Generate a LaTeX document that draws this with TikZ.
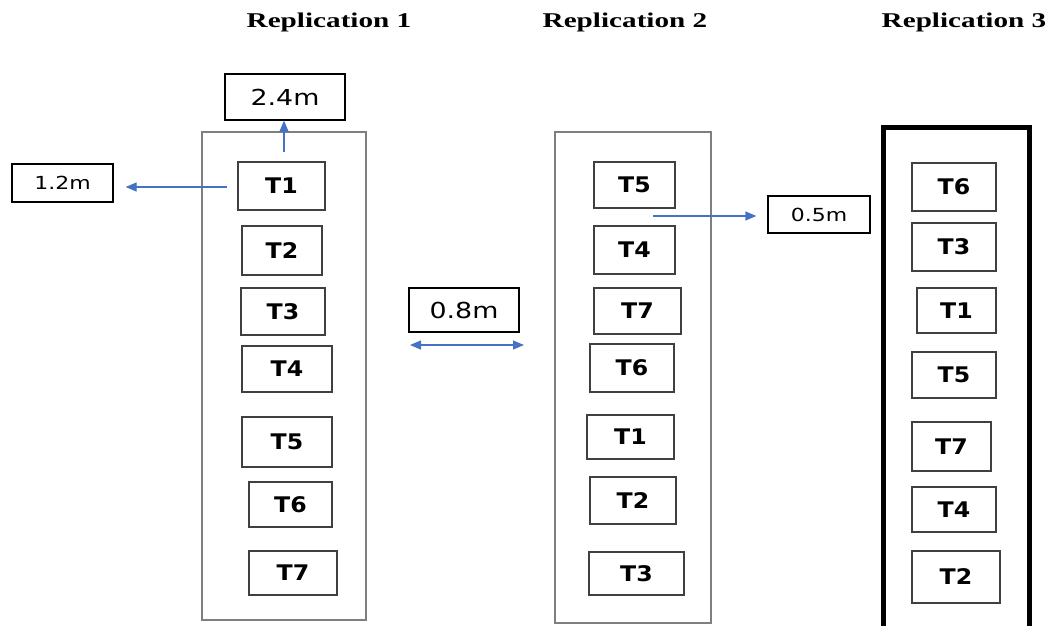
\documentclass[tikz,border=0pt]{standalone}
\usepackage{fontspec}
\setmainfont{DejaVu Sans}
\newfontfamily\titlefont{Liberation Serif}
\usetikzlibrary{arrows.meta}
\definecolor{arrblue}{HTML}{4472C4}
\definecolor{boxgray}{HTML}{7F7F7F}
\definecolor{tgray}{HTML}{404040}
\newcommand\boxat[7][]{\node[#1, minimum width={(#5-#3)*1pt}, minimum height={(#6-#4)*1pt}] (#2) at ({(#3+#5)/2},{(#4+#6)/2}) {#7};}
\newcommand\tlab[1]{\scalebox{1.1}[1]{#1}}
\newcommand\mlab[1]{\scalebox{1.22}[1]{#1}}
\begin{document}
\begin{tikzpicture}[x=1pt,y=-1pt,
  tbox/.style={draw=tgray, line width=1.4pt, inner sep=0pt, font=\bfseries\fontsize{21.5}{24}\selectfont},
  repbox/.style={draw=boxgray, line width=2.4pt, inner sep=0pt},
  repbold/.style={draw=black, line width=4.5pt, inner sep=0pt},
  mbox/.style={draw=black, line width=1.3pt, inner sep=0pt},
  mbig/.style={mbox, font=\fontsize{22}{26}\selectfont},
  msmall/.style={mbox, font=\fontsize{18}{22}\selectfont},
  title/.style={anchor=base, inner sep=0pt, font=\titlefont\bfseries\fontsize{21}{24}\selectfont},
  arr/.style={draw=arrblue, line width=1.3pt, -{Triangle[length=11pt,width=9pt]}},
  darr/.style={draw=arrblue, line width=1.3pt, {Triangle[length=11pt,width=9pt]}-{Triangle[length=11pt,width=9pt]}}
]
\path[use as bounding box, clip] (0,0) rectangle (1049,625);
\fill[white] (0,0) rectangle (1049,625);

% titles
\node[title] (title1) at (329,27) {\scalebox{1.39}[1]{Replication 1}};
\node[title] (title2) at (625,27) {\scalebox{1.39}[1]{Replication 2}};
\node[title] (title3) at (964,27) {\scalebox{1.39}[1]{Replication 3}};

% replication frames
\boxat[repbox]{rep1}{202}{132}{366}{620}{}
\boxat[repbox]{rep2}{555}{132}{711}{623}{}
\boxat[repbold]{rep3}{883.5}{127.5}{1029.5}{660}{}

% replication 1
\boxat[tbox]{r1a}{238}{162}{325}{210}{\tlab{T1}}
\boxat[tbox]{r1b}{242}{226}{322}{275}{\tlab{T2}}
\boxat[tbox]{r1c}{241}{288}{325}{335}{\tlab{T3}}
\boxat[tbox]{r1d}{242}{346}{332}{392}{\tlab{T4}}
\boxat[tbox]{r1e}{242}{417}{332}{467}{\tlab{T5}}
\boxat[tbox]{r1f}{249}{482}{332}{527}{\tlab{T6}}
\boxat[tbox]{r1g}{249}{551}{337}{595}{\tlab{T7}}

% replication 2
\boxat[tbox]{r2a}{594}{162}{675}{208}{\tlab{T5}}
\boxat[tbox]{r2b}{594}{226}{675}{274}{\tlab{T4}}
\boxat[tbox]{r2c}{594}{288}{681}{334}{\tlab{T7}}
\boxat[tbox]{r2d}{590}{344}{674}{392}{\tlab{T6}}
\boxat[tbox]{r2e}{587}{415}{674}{459}{\tlab{T1}}
\boxat[tbox]{r2f}{590}{477}{676}{524}{\tlab{T2}}
\boxat[tbox]{r2g}{589}{552}{684}{595}{\tlab{T3}}

% replication 3
\boxat[tbox]{r3a}{912}{163}{996}{211}{\tlab{T6}}
\boxat[tbox]{r3b}{912}{223}{996}{271}{\tlab{T3}}
\boxat[tbox]{r3c}{917}{288}{996}{333}{\tlab{T1}}
\boxat[tbox]{r3d}{912}{352}{996}{398}{\tlab{T5}}
\boxat[tbox]{r3e}{912}{422}{991}{471}{\tlab{T7}}
\boxat[tbox]{r3f}{912}{487}{996}{532}{\tlab{T4}}
\boxat[tbox]{r3g}{912}{551}{1000}{603}{\tlab{T2}}

% measurement labels
\boxat[mbig]{m24}{225}{74}{345}{120}{\mlab{2.4m}}
\boxat[msmall]{m12}{12}{164}{113}{202}{\mlab{1.2m}}
\boxat[msmall]{m05}{768}{196}{870}{233}{\mlab{0.5m}}
\boxat[mbig]{m08}{409}{288}{519}{332}{\mlab{0.8m}}

% arrows
\coordinate (a24) at (284,152);
\coordinate (a12) at (227,187);
\coordinate (a05) at (653,216);
\coordinate (a08l) at (410,345);
\coordinate (a08r) at (524,345);
\draw[arr] (a24) -- (a24 |- m24.south);
\draw[arr] (a12) -- ([xshift=12pt]m12.east |- a12);
\draw[arr] (a05) -- ([xshift=-11pt]m05.west |- a05);
\draw[darr] (a08l) -- (a08r);
\end{tikzpicture}
\end{document}
